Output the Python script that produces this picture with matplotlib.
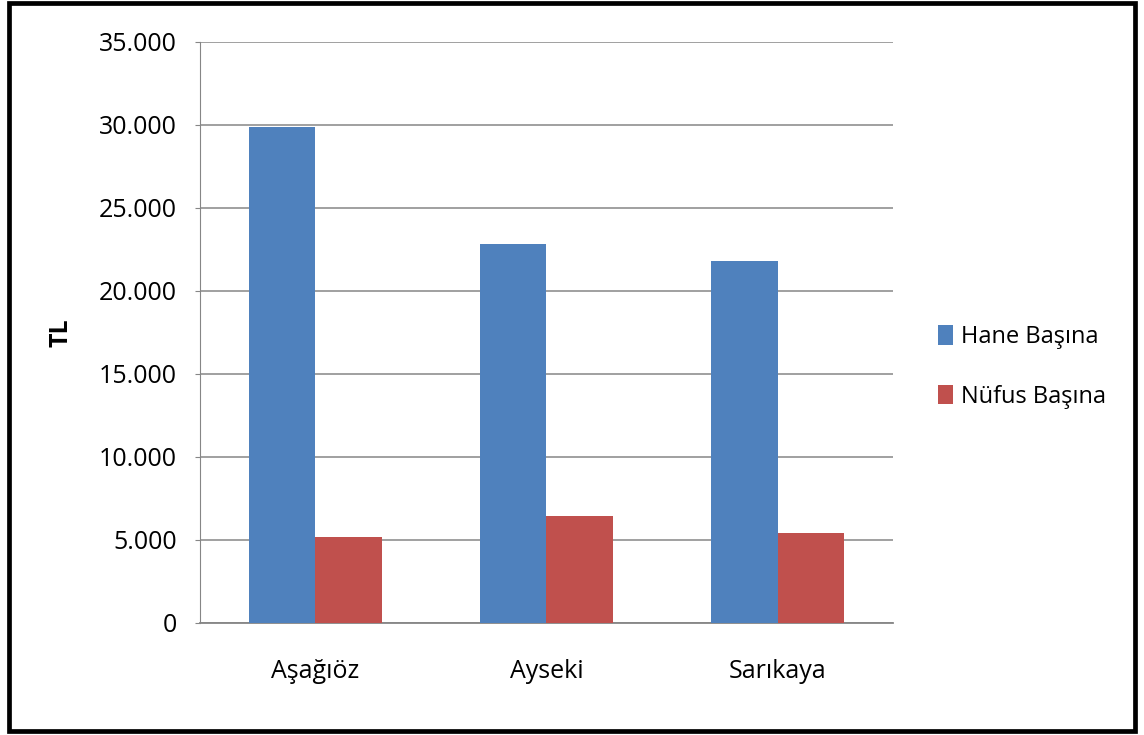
import matplotlib
matplotlib.use("Agg")
import numpy as np
from matplotlib import pyplot as plt
from matplotlib.patches import Rectangle
from matplotlib.ticker import FuncFormatter

plt.rcParams['font.family'] = ['Open Sans', 'DejaVu Sans']

# values (TL)
koyler = ["Aşağıöz", "Ayseki", "Sarıkaya"]
hane_basina = [29850, 22800, 21800]
nufus_basina = [5200, 6450, 5400]
seriler = ["Hane Başına", "Nüfus Başına"]

fig = plt.figure(figsize=(11.44, 7.35), dpi=100)
ax = fig.add_axes([0.1748, 0.1524, 0.6058, 0.7910])

x = np.arange(len(koyler))
w = 0.286
b1 = ax.bar(x - w / 2, hane_basina, w, color='#4F81BD', label=seriler[0], zorder=3)
b2 = ax.bar(x + w / 2, nufus_basina, w, color='#C0504D', label=seriler[1], zorder=3)

ax.set_xlim(-0.5, len(koyler) - 0.5)
ax.set_ylim(0, 35000)
ax.set_yticks(np.arange(0, 35001, 5000))
ax.yaxis.set_major_formatter(FuncFormatter(lambda v, p: "{:,.0f}".format(v).replace(",", ".")))
ax.set_xticks(x)
ax.set_xticklabels(koyler)

ax.grid(axis='y', color='#868686', linewidth=1.1, zorder=0)
ax.tick_params(axis='y', length=3.6, width=0.8, color='#868686', pad=13, labelsize=18)
ax.tick_params(axis='x', length=0, pad=26, labelsize=18)
for s in ['top', 'right']:
    ax.spines[s].set_visible(False)
ax.spines['left'].set_color('#868686')
ax.spines['left'].set_linewidth(0.8)
ax.spines['bottom'].set_color('#868686')
ax.spines['bottom'].set_linewidth(1.3)

fig.text(61 / 1144, 1 - 333 / 735, "TL", rotation=90, fontsize=18, fontweight='bold',
         ha='center', va='center')

fig.legend(handles=[b1, b2], loc='center left', bbox_to_anchor=(938 / 1144, 1 - 367 / 735),
           frameon=False, fontsize=17, handlelength=0.62, handleheight=0.9,
           handletextpad=0.35, labelspacing=1.5, borderpad=0, borderaxespad=0)

# black frame around the whole picture
fig.patches.append(Rectangle((9 / 1144, 1 - 730.5 / 735), 1126 / 1144, 728 / 735,
                             transform=fig.transFigure, fill=False, edgecolor='black',
                             linewidth=3.4))

fig.savefig("out.png", dpi=100)
